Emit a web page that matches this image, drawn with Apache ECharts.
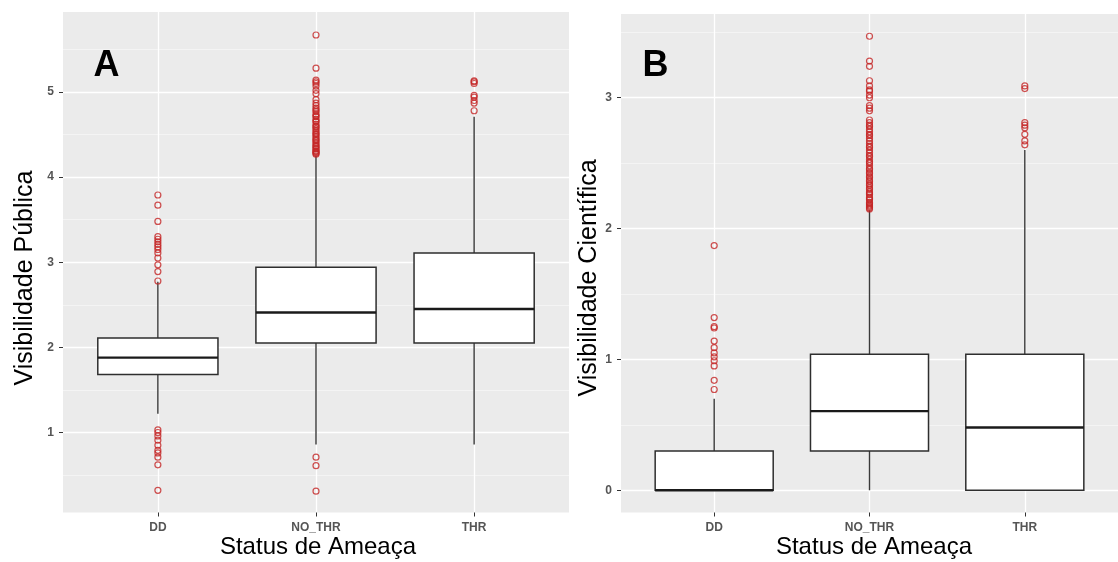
<!DOCTYPE html>
<html><head><meta charset="utf-8">
<script src="https://cdn.jsdelivr.net/npm/echarts@6/dist/echarts.min.js"></script>
<style>html,body{margin:0;padding:0;background:#fff}#c{width:1118px;height:562px}</style>
</head><body><div id="c"></div>
<script>
const categories = ['DD', 'NO_THR', 'THR'];

// Panel A (Visibilidade Pública): [min whisker, Q1, median, Q3, max whisker] per category
const boxesA = [
  [1.22, 1.68, 1.88, 2.11, 2.77],
  [0.86, 2.05, 2.41, 2.94, 4.25],
  [0.86, 2.05, 2.45, 3.11, 4.71]
];
const outA_DD = [3.79, 3.67, 3.48, 3.30, 3.27, 3.24, 3.21, 3.18, 3.15, 3.11, 3.05, 2.97, 2.89, 2.78,
  1.03, 1.00, 0.96, 0.91, 0.85, 0.79, 0.76, 0.71, 0.62, 0.32];
const outA_NO = [5.67, 5.28, 5.14, 5.12, 5.10, 5.07, 5.02, 4.98, 4.91, 4.87, 4.84, 4.81, 4.79, 4.77, 4.74,
  4.72, 4.71, 4.68, 4.66, 4.65, 4.62, 4.60, 4.59, 4.57, 4.55, 4.53, 4.51, 4.50, 4.48, 4.46, 4.44,
  4.43, 4.41, 4.39, 4.37, 4.36, 4.34, 4.33, 4.31, 4.30, 4.29, 4.28, 4.27,
  0.71, 0.61, 0.31];
const outA_THR = [5.13, 5.12, 5.10, 4.96, 4.94, 4.90, 4.87, 4.78];

// Panel B (Visibilidade Científica)
const boxesB = [
  [0.00, 0.00, 0.00, 0.30, 0.70],
  [0.00, 0.30, 0.605, 1.04, 2.14],
  [0.00, 0.00, 0.48, 1.04, 2.60]
];
const outB_DD = [1.87, 1.32, 1.25, 1.24, 1.14, 1.09, 1.05, 1.02, 0.99, 0.95, 0.84, 0.77];
const outB_NO = [3.47, 3.28, 3.24, 3.13, 3.09, 3.06, 3.05, 3.02, 3.00, 2.94, 2.92, 2.90,
  2.83, 2.81, 2.79, 2.78, 2.76, 2.74, 2.72, 2.71, 2.69, 2.67, 2.65, 2.63, 2.62, 2.60, 2.58, 2.56,
  2.55, 2.53, 2.51, 2.50, 2.48, 2.46, 2.45, 2.43, 2.42, 2.40, 2.39, 2.37, 2.36, 2.34, 2.33, 2.31,
  2.30, 2.28, 2.27, 2.26, 2.24, 2.23, 2.22, 2.20, 2.19, 2.18, 2.17, 2.16, 2.15];
const outB_THR = [3.09, 3.07, 2.81, 2.79, 2.77, 2.72, 2.67, 2.64];

const ticksA = [1, 2, 3, 4, 5];
const minorA = [0.5, 1.5, 2.5, 3.5, 4.5, 5.5];
const ticksB = [0, 1, 2, 3];
const minorB = [0.5, 1.5, 2.5, 3.5];

const BOX_W = 0.76;
const FONT = '"Liberation Sans", Arial, sans-serif';

function boxRender(params, api) {
  const x = api.value(0);
  const lo = api.coord([x, api.value(1)]);
  const q1 = api.coord([x, api.value(2)]);
  const md = api.coord([x, api.value(3)]);
  const q3 = api.coord([x, api.value(4)]);
  const hi = api.coord([x, api.value(5)]);
  const w = api.size([BOX_W, 0])[0];
  const cx = q1[0];
  const ws = { stroke: '#3a3a3a', lineWidth: 1.4 };
  return { type: 'group', children: [
    { type: 'line', shape: { x1: cx, y1: hi[1], x2: cx, y2: q3[1] }, style: ws },
    { type: 'line', shape: { x1: cx, y1: q1[1], x2: cx, y2: lo[1] }, style: ws },
    { type: 'rect', shape: { x: cx - w / 2, y: q3[1], width: w, height: q1[1] - q3[1] },
      style: { fill: '#ffffff', stroke: '#2e2e2e', lineWidth: 1.5 } },
    { type: 'line', shape: { x1: cx - w / 2, y1: md[1], x2: cx + w / 2, y2: md[1] },
      style: { stroke: '#1a1a1a', lineWidth: 2.4 } }
  ]};
}

function pts(arrs) {
  const out = [];
  arrs.forEach((a, i) => a.forEach(v => out.push([i, v])));
  return out;
}

function gridLines(major, minor) {
  const d = [];
  minor.forEach(v => d.push({ yAxis: v, lineStyle: { color: '#f6f6f6', width: 0.8, type: 'solid' } }));
  major.forEach(v => d.push({ yAxis: v, lineStyle: { color: '#ffffff', width: 1.3, type: 'solid' } }));
  [0, 1, 2].forEach(v => d.push({ xAxis: v, lineStyle: { color: '#ffffff', width: 1.3, type: 'solid' } }));
  return d;
}

function xAxisDef(gi) {
  return {
    type: 'value', gridIndex: gi, min: -0.6, max: 2.6,
    axisLine: { show: false, onZero: false },
    axisTick: { show: true, length: 4, lineStyle: { color: '#333', width: 1 }, customValues: [0, 1, 2] },
    axisLabel: { customValues: [0, 1, 2], formatter: v => categories[Math.round(v)] || '',
      color: '#555', fontSize: 12, fontWeight: 'bold', fontFamily: FONT, margin: 9 },
    splitLine: { show: false }
  };
}
function yAxisDef(gi, min, max, ticks) {
  return {
    type: 'value', gridIndex: gi, min: min, max: max,
    axisLine: { show: false, onZero: false },
    axisTick: { show: true, length: 4, lineStyle: { color: '#333', width: 1 }, customValues: ticks },
    axisLabel: { customValues: ticks, formatter: v => String(Math.round(v)),
      color: '#555', fontSize: 12, fontWeight: 'bold', fontFamily: FONT, margin: 9 },
    splitLine: { show: false }
  };
}

const outlierStyle = { color: 'rgba(255,255,255,0)', borderColor: '#c42626', borderWidth: 1.2 };

function markLineDef(major, minor) {
  return { silent: true, z: 0, symbol: ['none', 'none'], animation: false, label: { show: false },
    emphasis: { disabled: true }, lineStyle: { type: 'solid' }, data: gridLines(major, minor) };
}

const option = {
  animation: false,
  backgroundColor: '#ffffff',
  grid: [
    { left: 63, top: 12, width: 506, height: 500.5, show: true, backgroundColor: '#EBEBEB', borderWidth: 0 },
    { left: 621, top: 14, width: 507, height: 498.5, show: true, backgroundColor: '#EBEBEB', borderWidth: 0 }
  ],
  xAxis: [xAxisDef(0), xAxisDef(1)],
  yAxis: [yAxisDef(0, 0.06, 5.94, ticksA), yAxisDef(1, -0.17, 3.64, ticksB)],
  series: [
    { type: 'scatter', xAxisIndex: 0, yAxisIndex: 0, data: [], z: 0, silent: true,
      markLine: markLineDef(ticksA, minorA) },
    { type: 'scatter', xAxisIndex: 1, yAxisIndex: 1, data: [], z: 0, silent: true,
      markLine: markLineDef(ticksB, minorB) },
    { type: 'custom', xAxisIndex: 0, yAxisIndex: 0, z: 3, renderItem: boxRender,
      encode: { x: 0, y: [1, 2, 3, 4, 5] }, data: boxesA.map((b, i) => [i].concat(b)) },
    { type: 'custom', xAxisIndex: 1, yAxisIndex: 1, z: 3, renderItem: boxRender,
      encode: { x: 0, y: [1, 2, 3, 4, 5] }, data: boxesB.map((b, i) => [i].concat(b)) },
    { type: 'scatter', xAxisIndex: 0, yAxisIndex: 0, z: 4, symbol: 'circle', symbolSize: 6,
      itemStyle: outlierStyle, data: pts([outA_DD, outA_NO, outA_THR]) },
    { type: 'scatter', xAxisIndex: 1, yAxisIndex: 1, z: 4, symbol: 'circle', symbolSize: 6,
      itemStyle: outlierStyle, data: pts([outB_DD, outB_NO, outB_THR]) }
  ],
  graphic: [
    { type: 'text', x: 106.5, y: 66, style: { text: 'A', font: 'bold 36px ' + FONT, fill: '#000', align: 'center', verticalAlign: 'middle' } },
    { type: 'text', x: 655.5, y: 66, style: { text: 'B', font: 'bold 36px ' + FONT, fill: '#000', align: 'center', verticalAlign: 'middle' } },
    { type: 'text', x: 25, y: 278, rotation: Math.PI / 2, style: { text: 'Visibilidade Pública', font: '25px ' + FONT, fill: '#000', align: 'center', verticalAlign: 'middle' } },
    { type: 'text', x: 589, y: 278, rotation: Math.PI / 2, style: { text: 'Visibilidade Científica', font: '25px ' + FONT, fill: '#000', align: 'center', verticalAlign: 'middle' } },
    { type: 'text', x: 318, y: 547, style: { text: 'Status de Ameaça', font: '24px ' + FONT, fill: '#000', align: 'center', verticalAlign: 'middle' } },
    { type: 'text', x: 874, y: 547, style: { text: 'Status de Ameaça', font: '24px ' + FONT, fill: '#000', align: 'center', verticalAlign: 'middle' } }
  ]
};

const chart = echarts.init(document.getElementById('c'), null, { renderer: 'canvas' });
chart.setOption(option);
</script>
</body></html>
